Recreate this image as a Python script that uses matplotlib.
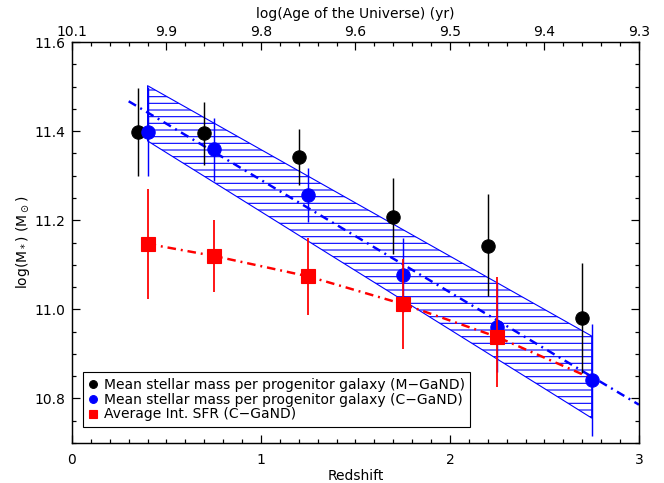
import matplotlib
matplotlib.use('Agg')
import matplotlib.pyplot as plt
from matplotlib.lines import Line2D
from matplotlib.ticker import MultipleLocator

# mean stellar mass per progenitor galaxy (M-GaND)
z_m = [0.35, 0.7, 1.2, 1.7, 2.2, 2.7]
mass_m = [11.398, 11.396, 11.343, 11.208, 11.143, 10.98]
mass_m_lo = [11.30, 11.325, 11.28, 11.125, 11.029, 10.858]
mass_m_hi = [11.496, 11.465, 11.405, 11.294, 11.258, 11.105]

# mean stellar mass per progenitor galaxy (C-GaND)
z_c = [0.4, 0.75, 1.25, 1.75, 2.25, 2.75]
mass_c = [11.398, 11.359, 11.257, 11.078, 10.96, 10.842]
mass_c_lo = [11.30, 11.289, 11.196, 10.995, 10.86, 10.716]
mass_c_hi = [11.50, 11.43, 11.318, 11.16, 11.06, 10.967]

# average integrated SFR (C-GaND)
z_sfr = [0.4, 0.75, 1.25, 1.75, 2.25]
sfr = [11.147, 11.12, 11.074, 11.012, 10.938]
sfr_lo = [11.023, 11.038, 10.987, 10.911, 10.826]
sfr_hi = [11.27, 11.2, 11.16, 11.112, 11.073]

# fitted curves and uncertainty band
fit_z = [0.3, 3.0]
fit_mass = [11.467, 10.786]
sfr_fit_z = [0.4, 0.75, 1.25, 1.75, 2.25, 2.75]
sfr_fit = [11.147, 11.12, 11.074, 11.012, 10.938, 10.845]
band_z = [0.4, 2.75]
band_hi = [11.502, 10.94]
band_lo = [11.378, 10.756]

# top axis: log(age of the universe)
age_pos = [0.0, 0.5, 1.0, 1.5, 2.0, 2.5, 3.0]
age_labels = ['10.1', '9.9', '9.8', '9.6', '9.5', '9.4', '9.3']

labels = ['Mean stellar mass per progenitor galaxy (M\u2212GaND)',
          'Mean stellar mass per progenitor galaxy (C\u2212GaND)',
          'Average Int. SFR (C\u2212GaND)']


def errs(v, lo, hi):
    return [[a - b for a, b in zip(v, lo)], [b - a for a, b in zip(v, hi)]]


def main():
    plt.rcParams['font.family'] = ['DejaVu Sans']
    plt.rcParams['font.size'] = 12.5
    plt.rcParams['hatch.color'] = 'blue'
    plt.rcParams['hatch.linewidth'] = 1.0

    fig = plt.figure(figsize=(8.3, 6.0375), dpi=80)
    ax = fig.add_axes([0.1084, 0.0828, 0.8539, 0.8302])

    ax.fill_between(band_z, band_lo, band_hi, facecolor='none', edgecolor='blue',
                    hatch='--', linewidth=1.0, zorder=1)

    ax.plot(fit_z, fit_mass, color='blue', lw=2.2, ls=(0, (3.5, 2, 0.8, 2)), zorder=2)
    ax.plot(sfr_fit_z, sfr_fit, color='red', lw=2.2, ls=(0, (3.5, 2, 0.8, 2)), zorder=2)

    ax.errorbar(z_m, mass_m, yerr=errs(mass_m, mass_m_lo, mass_m_hi), fmt='o', color='black',
                ms=12, elinewidth=1.3, capsize=0, zorder=3)
    ax.errorbar(z_c, mass_c, yerr=errs(mass_c, mass_c_lo, mass_c_hi), fmt='o', color='blue',
                ms=12, elinewidth=1.3, capsize=0, zorder=4)
    ax.errorbar(z_sfr, sfr, yerr=errs(sfr, sfr_lo, sfr_hi), fmt='s', color='red',
                ms=12, elinewidth=1.6, capsize=0, zorder=5)

    ax.set_xlim(0, 3)
    ax.set_ylim(10.7, 11.6)
    ax.xaxis.set_major_locator(MultipleLocator(1))
    ax.xaxis.set_minor_locator(MultipleLocator(0.1))
    ax.yaxis.set_major_locator(MultipleLocator(0.2))
    ax.yaxis.set_minor_locator(MultipleLocator(0.05))
    ax.xaxis.set_major_formatter(plt.FormatStrFormatter('%d'))
    ax.yaxis.set_major_formatter(plt.FormatStrFormatter('%.1f'))
    ax.tick_params(which='both', direction='in', right=True, width=1.1)
    ax.tick_params(which='major', length=7)
    ax.tick_params(which='minor', length=4)
    ax.tick_params(axis='x', pad=9)
    ax.tick_params(axis='y', pad=6)
    for s in ax.spines.values():
        s.set_linewidth(1.3)

    ax.set_xlabel('Redshift', labelpad=2)
    ax.set_ylabel(r'log(M$_*$) (M$_\odot$)', labelpad=2)

    top = ax.twiny()
    top.set_xlim(0, 3)
    top.set_xticks(age_pos)
    top.set_xticklabels(age_labels)
    top.xaxis.set_minor_locator(MultipleLocator(0.1))
    top.tick_params(which='both', direction='in', width=1.1, pad=3)
    top.tick_params(which='major', length=7)
    top.tick_params(which='minor', length=4)
    top.set_xlabel('log(Age of the Universe) (yr)', labelpad=6)

    handles = [
        Line2D([], [], ls='none', marker='o', color='black', ms=7),
        Line2D([], [], ls='none', marker='o', color='blue', ms=7),
        Line2D([], [], ls='none', marker='s', color='red', ms=8),
    ]
    leg = ax.legend(handles, labels, loc='lower left', bbox_to_anchor=(0.019, 0.04),
                    borderaxespad=0, fancybox=False, framealpha=1, edgecolor='black',
                    handlelength=0.7, handletextpad=0.4, labelspacing=0.05,
                    borderpad=0.4, fontsize=12.5)
    leg.get_frame().set_linewidth(1.0)

    fig.savefig('out.png', dpi=80)


main()
